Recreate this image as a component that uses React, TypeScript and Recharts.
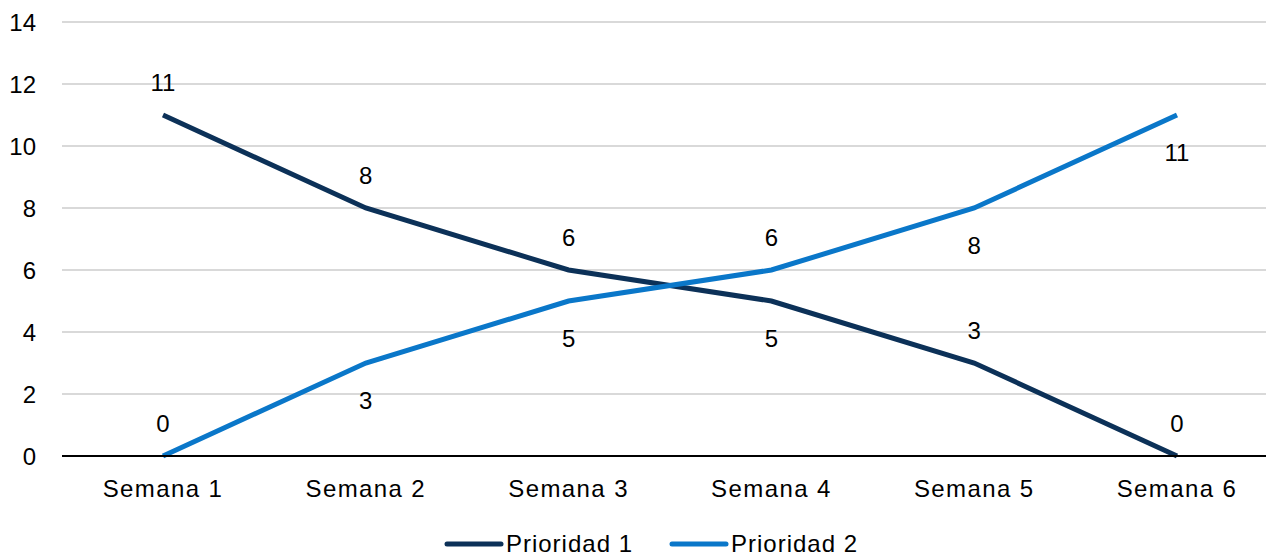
import { LineChart, Line, XAxis, YAxis, CartesianGrid, Legend, LabelList } from "recharts";

const weeks = ["Semana 1", "Semana 2", "Semana 3", "Semana 4", "Semana 5", "Semana 6"];
const prioridad1 = [11, 8, 6, 5, 3, 0];
const prioridad2 = [0, 3, 5, 6, 8, 11];
const yTicks = [0, 2, 4, 6, 8, 10, 12, 14];

// which side of the point each value label sits on
const p1Side = ["up", "up", "up", "down", "up", "up"];
const p2Side = ["up", "down", "down", "up", "down", "down"];

const FONT = "'Liberation Sans', Arial, sans-serif";
const DARK = "#0c3158";
const BLUE = "#0a77c9";

const data = weeks.map((w, i) => ({ week: w, p1: prioridad1[i], p2: prioridad2[i] }));

const makeLabel = (sides: string[]) => (props: any) => {
  const { x, y, value, index } = props;
  const dy = sides[index] === "up" ? -33 : 37;
  return (
    <text
      x={x}
      y={y + dy}
      textAnchor="middle"
      dominantBaseline="central"
      fontSize={24}
      fontFamily={FONT}
      fill="#000"
    >
      {value}
    </text>
  );
};

const LegendContent = () => (
  <div
    style={{
      display: "flex",
      justifyContent: "center",
      alignItems: "center",
      gap: 36,
      fontFamily: FONT,
      fontSize: 24,
      letterSpacing: 1,
      height: 32,
      boxSizing: "border-box",
      paddingTop: 6,
      paddingLeft: 20,
    }}
  >
    {[
      { name: "Prioridad 1", color: DARK },
      { name: "Prioridad 2", color: BLUE },
    ].map((it) => (
      <div key={it.name} style={{ display: "flex", alignItems: "center" }}>
        <svg width={60} height={10}>
          <line x1={3} y1={5} x2={57} y2={5} stroke={it.color} strokeWidth={5} strokeLinecap="round" />
        </svg>
        <span style={{ color: "#000", marginLeft: 2 }}>{it.name}</span>
      </div>
    ))}
  </div>
);

export default function App() {
  return (
    <div style={{ width: 1266, height: 549 }}>
      <LineChart width={1266} height={549} data={data} margin={{ top: 14, right: 0, left: 0, bottom: 0 }}>
        <CartesianGrid vertical={false} stroke="#d9d9d9" strokeWidth={2} />
        <XAxis
          dataKey="week"
          height={69}
          tickLine={false}
          axisLine={{ stroke: "#000", strokeWidth: 2 }}
          tick={{ fontSize: 24, fontFamily: FONT, fill: "#000", letterSpacing: 1.4 }}
          tickMargin={18}
          interval={0}
          padding={{ left: 101, right: 97 }}
        />
        <YAxis
          width={54}
          domain={[0, 14]}
          ticks={yTicks}
          tickLine={false}
          axisLine={false}
          tickSize={6}
          tickMargin={20}
          tick={{ fontSize: 24, fontFamily: FONT, fill: "#000" }}
        />
        <Legend verticalAlign="bottom" height={32} content={() => <LegendContent />} />
        <Line
          type="linear"
          dataKey="p1"
          name="Prioridad 1"
          stroke={DARK}
          strokeWidth={5}
          dot={false}
          activeDot={false}
          isAnimationActive={false}
        >
          <LabelList dataKey="p1" content={makeLabel(p1Side)} />
        </Line>
        <Line
          type="linear"
          dataKey="p2"
          name="Prioridad 2"
          stroke={BLUE}
          strokeWidth={5}
          dot={false}
          activeDot={false}
          isAnimationActive={false}
        >
          <LabelList dataKey="p2" content={makeLabel(p2Side)} />
        </Line>
      </LineChart>
    </div>
  );
}
